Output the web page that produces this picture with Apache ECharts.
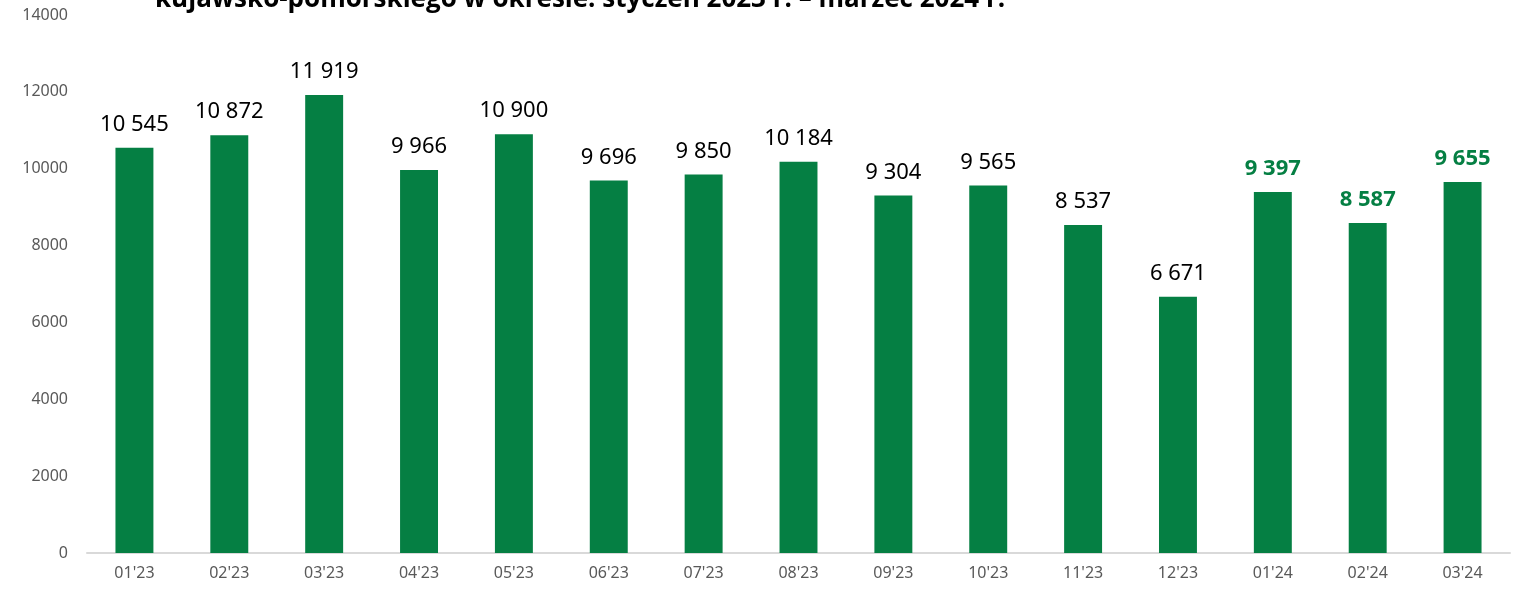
<!DOCTYPE html>
<html>
<head>
<meta charset="utf-8">
<script src="https://cdn.jsdelivr.net/npm/echarts@6/dist/echarts.min.js"></script>
<style>
  html, body { margin: 0; padding: 0; background: #fff; }
  #chart { width: 1517px; height: 594px; }
</style>
</head>
<body>
<div id="chart"></div>
<script>
const months = ["01'23", "02'23", "03'23", "04'23", "05'23", "06'23", "07'23", "08'23",
  "09'23", "10'23", "11'23", "12'23", "01'24", "02'24", "03'24"];
const values = [10545, 10872, 11919, 9966, 10900, 9696, 9850, 10184,
  9304, 9565, 8537, 6671, 9397, 8587, 9655];
// months of 2024 get green bold labels
const highlighted = ["01'24", "02'24", "03'24"];

const titleText = 'kujawsko-pomorskiego w okresie: styczeń 2023 r. – marzec 2024 r.';
const green = '#057f43';

const fmt = (v) => String(v).replace(/\B(?=(\d{3})+(?!\d))/g, ' ');

const chart = echarts.init(document.getElementById('chart'));

chart.setOption({
  animation: false,
  title: {
    text: titleText,
    left: 150,
    top: -18,
    textStyle: {
      fontFamily: 'Open Sans',
      fontSize: 26,
      fontWeight: 'bold',
      color: '#000'
    }
  },
  grid: { left: 87, right: 7, top: 15, bottom: 41 },
  xAxis: {
    type: 'category',
    data: months,
    axisLine: { lineStyle: { color: '#d9d9d9', width: 2 } },
    axisTick: { show: false },
    axisLabel: { color: '#595959', fontSize: 16, fontFamily: 'Noto Sans', margin: 12 }
  },
  yAxis: {
    type: 'value',
    min: 0,
    max: 14000,
    interval: 2000,
    splitLine: { show: false },
    axisLine: { show: false },
    axisTick: { show: false },
    axisLabel: {
      color: '#595959',
      fontSize: 16,
      fontFamily: 'Noto Sans',
      margin: 19,
      formatter: (v) => String(v)
    }
  },
  series: [{
    type: 'bar',
    barWidth: '40%',
    data: values.map((v, i) => {
      const hi = highlighted.includes(months[i]);
      return {
        value: v,
        label: hi ? { color: green, fontWeight: 'bold' } : {}
      };
    }),
    itemStyle: { color: green },
    label: {
      show: true,
      position: 'top',
      distance: 12,
      color: '#000',
      fontSize: 22,
      fontFamily: 'Noto Sans',
      formatter: (p) => fmt(p.value)
    }
  }]
});
</script>
</body>
</html>
